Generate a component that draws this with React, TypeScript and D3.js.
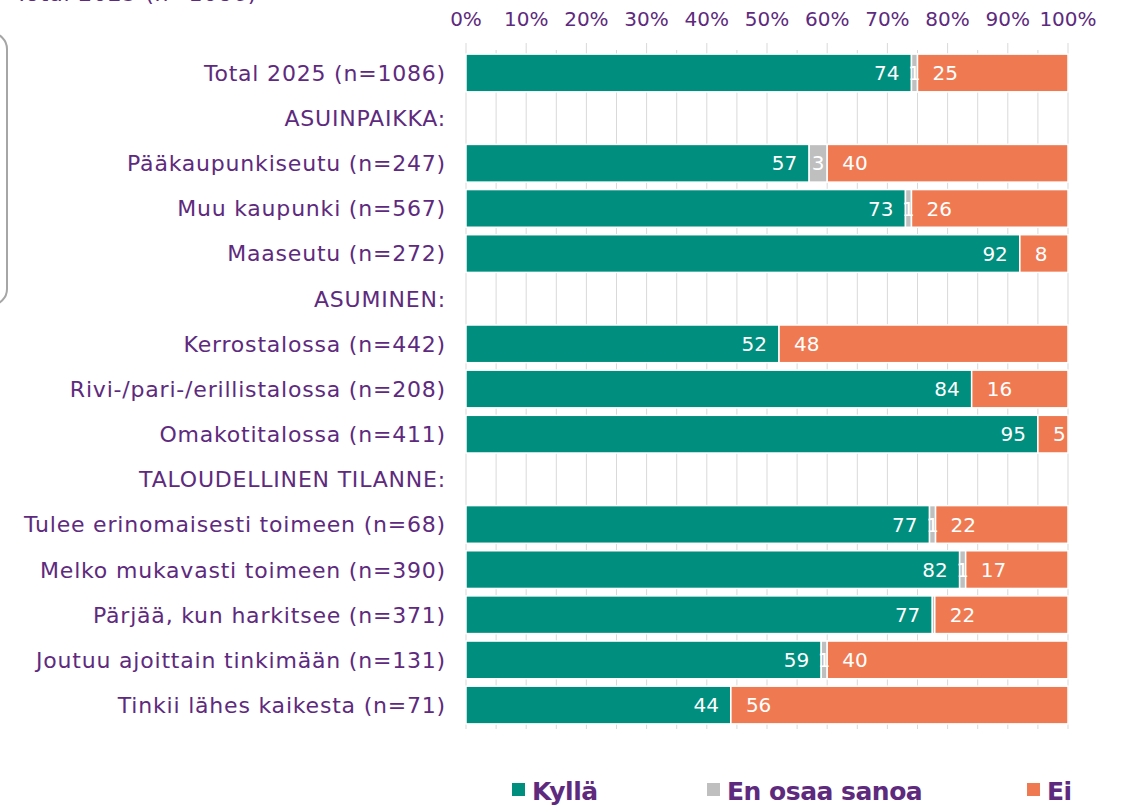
import React from "react";
import * as d3 from "d3";

const rows = [
  "Total 2025 (n=1086)",
  "ASUINPAIKKA:",
  "Pääkaupunkiseutu (n=247)",
  "Muu kaupunki (n=567)",
  "Maaseutu (n=272)",
  "ASUMINEN:",
  "Kerrostalossa (n=442)",
  "Rivi-/pari-/erillistalossa (n=208)",
  "Omakotitalossa (n=411)",
  "TALOUDELLINEN TILANNE:",
  "Tulee erinomaisesti toimeen (n=68)",
  "Melko mukavasti toimeen (n=390)",
  "Pärjää, kun harkitsee (n=371)",
  "Joutuu ajoittain tinkimään (n=131)",
  "Tinkii lähes kaikesta (n=71)",
];
// null = header row without bar
const kylla = [74, null, 57, 73, 92, null, 52, 84, 95, null, 77, 82, 77, 59, 44];
const eos = [1, null, 3, 1, 0, null, 0, 0, 0, null, 1, 1, 0.4, 1, 0];
const ei = [25, null, 40, 26, 8, null, 48, 16, 5, null, 22, 17, 22, 40, 56];
const ticks = [0, 10, 20, 30, 40, 50, 60, 70, 80, 90, 100];
const seriesNames = ["Kyllä", "En osaa sanoa", "Ei"];
const colors = ["#008E7E", "#BFBFBF", "#EF7A52"];
const purple = "#5E2A7E";
const font = "'DejaVu Sans', sans-serif";

export default function App() {
  const W = 1123, H = 805;
  const x = d3.scaleLinear().domain([0, 1]).range([466, 1068]);
  const y = d3.scaleBand<string>().domain(rows).range([50.5, 727.5]).paddingInner(0.165).paddingOuter(0.08);

  const data = rows.map((r, i) => ({ row: r, k: kylla[i], e: eos[i], ei: ei[i] }));
  const barData = data.filter((d) => d.k !== null) as any[];
  const stack = d3.stack<any>().keys(["k", "e", "ei"]).offset(d3.stackOffsetExpand);
  const stacked = stack(barData);

  const minor = d3.range(5, 100, 10);

  return (
    <svg width={W} height={H} style={{ position: "absolute", left: 0, top: 0, display: "block", background: "#fff" }}>
      {/* partial frame at left */}
      <rect x={-200} y={33} width={207} height={272} rx={16} fill="none" stroke="#A6A6A6" strokeWidth={2} />
      <text x={15} y={1} fill={purple} fontFamily={font} fontSize={22} letterSpacing={0.8}>Total 2025 (n=1086)</text>

      {/* gridlines */}
      {ticks.map((t) => (
        <line key={"g" + t} x1={x(t / 100)} x2={x(t / 100)} y1={43} y2={729} stroke="#D9D9D9" strokeWidth={1} />
      ))}
      {minor.map((t) => (
        <line key={"m" + t} x1={x(t / 100)} x2={x(t / 100)} y1={50} y2={729} stroke="#D9D9D9" strokeWidth={1} />
      ))}
      {ticks.map((t) => (
        <text key={"t" + t} x={x(t / 100)} y={26} textAnchor="middle" fill={purple} fontFamily={font} fontSize={20}>
          {t}%
        </text>
      ))}

      {/* bars */}
      {stacked.map((s, si) =>
        s.map((seg: any, j: number) => {
          const d = seg.data;
          const y0 = y(d.row)!;
          const bw = y.bandwidth();
          const x0 = x(seg[0]);
          const x1 = x(seg[1]);
          return (
            <rect key={si + "-" + j} x={x0} y={y0} width={Math.max(0, x1 - x0)} height={bw} fill={colors[si]} stroke="#fff" strokeWidth={1.5} />
          );
        })
      )}
      {stacked.map((s, si) =>
        s.map((seg: any, j: number) => {
          const d = seg.data;
          const v = [d.k, d.e, d.ei][si];
          if (v < 0.5) return null;
          const yc = y(d.row)! + y.bandwidth() / 2;
          const x0 = x(seg[0]);
          const x1 = x(seg[1]);
          let tx = (x0 + x1) / 2;
          let anchor: any = "middle";
          if (si === 0) { tx = x1 - 12; anchor = "end"; }
          if (si === 2) { tx = x0 + 15; anchor = "start"; }
          return (
            <text key={"l" + si + "-" + j} x={tx} y={yc} dy="0.36em" textAnchor={anchor} fill="#fff" fontFamily={font} fontSize={20}>
              {Math.round(v)}
            </text>
          );
        })
      )}

      {/* row labels */}
      {rows.map((r) => (
        <text key={"r" + r} x={446} y={y(r)! + y.bandwidth() / 2} dy="0.36em" textAnchor="end" fill={purple} fontFamily={font} fontSize={22} letterSpacing={0.8}>
          {r}
        </text>
      ))}

      {/* legend */}
      {seriesNames.map((n, i) => {
        const lx = [512, 707, 1027][i];
        return (
          <g key={"lg" + n}>
            <rect x={lx} y={783} width={13} height={13} fill={colors[i]} />
            <text x={lx + 20} y={800} fill={purple} fontFamily={font} fontSize={25} fontWeight="bold" letterSpacing={-0.5}>{n}</text>
          </g>
        );
      })}
    </svg>
  );
}
